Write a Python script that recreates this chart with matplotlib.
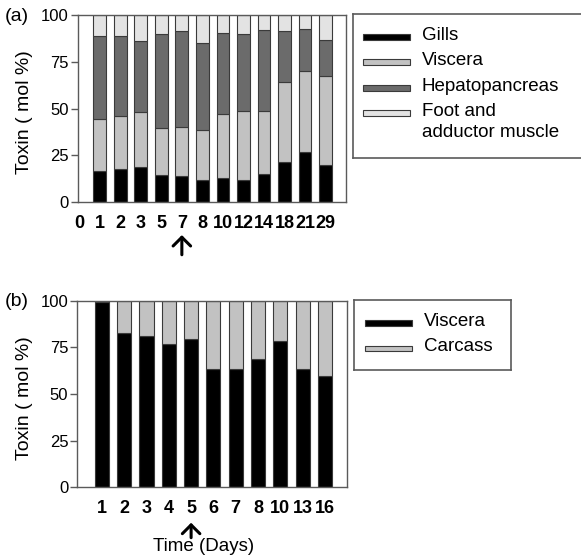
import matplotlib
matplotlib.use('Agg')
import matplotlib.pyplot as plt
from matplotlib.patches import Rectangle
import numpy as np

plt.rcParams['font.family'] = ['Liberation Sans', 'DejaVu Sans']

# Panel (a) data, mol % per tissue
Days_a = ['0', '1', '2', '3', '5', '7', '8', '10', '12', '14', '18', '21', '29']
Gills = [16.9, 17.6, 18.7, 14.8, 14.1, 12.1, 13.0, 11.9, 14.9, 21.7, 27.0, 19.9]
Viscera_a = [27.4, 28.3, 29.7, 24.9, 26.3, 26.3, 34.0, 36.9, 33.7, 42.4, 42.9, 47.5]
Hepato = [44.7, 43.1, 37.7, 50.3, 51.2, 46.5, 43.6, 41.2, 43.2, 27.4, 22.4, 19.3]
Foot = [11.0, 11.0, 13.9, 10.0, 8.4, 15.1, 9.4, 10.0, 8.2, 8.5, 7.7, 13.3]

# Panel (b) data
Days_b = ['1', '2', '3', '4', '5', '6', '7', '8', '10', '13', '16']
Viscera_b = [99.3, 82.5, 81.3, 76.6, 79.6, 63.2, 63.2, 68.8, 78.2, 63.2, 59.8]
Carcass = [0.7, 17.5, 18.7, 23.4, 20.4, 36.8, 36.8, 31.2, 21.8, 36.8, 40.2]

names_a = ['Gills', 'Viscera', 'Hepatopancreas', 'Foot and\nadductor muscle']
colors_a = ['#000000', '#c2c2c2', '#6b6b6b', '#e3e3e3']
names_b = ['Viscera', 'Carcass']
colors_b = ['#000000', '#c2c2c2']

W, H = 581, 560
edge = '#3a3a3a'
spine_col = '#5a5a5a'

fig = plt.figure(figsize=(W / 100, H / 100), dpi=100)

def px_axes(x0, y0, x1, y1):
    # axes from image pixel box (top-left origin)
    return fig.add_axes([x0 / W, 1 - y1 / H, (x1 - x0) / W, (y1 - y0) / H])

def style_axes(ax):
    for s in ax.spines.values():
        s.set_color(spine_col)
        s.set_linewidth(1)
    ax.set_ylim(0, 100)
    ax.set_yticks([0, 25, 50, 75, 100])
    ax.tick_params(axis='y', length=5, width=1, color=spine_col, pad=1.5, labelsize=12)
    ax.tick_params(axis='x', length=0, pad=9, labelsize=13)
    for lab in ax.get_xticklabels():
        lab.set_fontweight('bold')
    ax.set_ylabel('Toxin ( mol %)', fontsize=14)
    ax.yaxis.set_label_coords(-0.165, 0.48)

def legend_box(box, handles_x, text_x, rows, names, colors, right_open=False):
    lx = px_axes(*box)
    lx.set_xlim(box[0], box[2])
    lx.set_ylim(box[3], box[1])
    lx.set_xticks([])
    lx.set_yticks([])
    for s in lx.spines.values():
        s.set_color(spine_col)
        s.set_linewidth(1.2)
    if right_open:
        lx.spines['right'].set_visible(False)
    for y, name, c in zip(rows, names, colors):
        lx.add_patch(Rectangle((handles_x[0], y - 2.8), handles_x[1] - handles_x[0], 5.6,
                               facecolor=c, edgecolor=edge, linewidth=0.8))
        lx.text(text_x, y - 10, name, fontsize=13.5, va='top', ha='left', linespacing=1.28)

# ---- Panel (a)
ax1 = px_axes(77.7, 15, 346, 202.3)
x_a = np.arange(1, len(Days_a))
bottom = np.zeros(len(Gills))
for vals, c in zip([Gills, Viscera_a, Hepato, Foot], colors_a):
    ax1.bar(x_a, vals, width=0.62, bottom=bottom, color=c, edgecolor=edge, linewidth=0.8)
    bottom += np.array(vals)
ax1.set_xlim(-0.07, 12.99)
ax1.set_xticks(np.arange(len(Days_a)))
ax1.set_xticklabels(Days_a)
style_axes(ax1)
ax1.annotate('', xy=(Days_a.index('7'), -0.175), xytext=(Days_a.index('7'), -0.28),
             xycoords=('data', 'axes fraction'), textcoords=('data', 'axes fraction'),
             arrowprops=dict(arrowstyle='->, head_width=0.35, head_length=0.35',
                             lw=2.2, color='black', mutation_scale=18, shrinkA=0, shrinkB=0),
             annotation_clip=False)

legend_box((352.7, 14, 590, 158), (362.7, 410), 421.7, [37, 62, 88, 113],
           names_a, colors_a, right_open=True)

# ---- Panel (b)
ax2 = px_axes(77.3, 300.7, 347.3, 487.3)
x_b = np.arange(1, len(Days_b) + 1)
ax2.bar(x_b, Viscera_b, width=0.63, color=colors_b[0], edgecolor=edge, linewidth=0.8)
ax2.bar(x_b, Carcass, width=0.63, bottom=Viscera_b, color=colors_b[1], edgecolor=edge, linewidth=0.8)
ax2.set_xlim(-0.1, 12.0)
ax2.set_xticks(x_b)
ax2.set_xticklabels(Days_b)
style_axes(ax2)
ax2.set_xlabel('Time (Days)', fontsize=13.5)
ax2.xaxis.set_label_coords(0.469, -0.27)
x5 = x_b[Days_b.index('5')]
ax2.annotate('', xy=(x5, -0.19), xytext=(x5, -0.27),
             xycoords=('data', 'axes fraction'), textcoords=('data', 'axes fraction'),
             arrowprops=dict(arrowstyle='->, head_width=0.35, head_length=0.35',
                             lw=2.2, color='black', mutation_scale=18, shrinkA=0, shrinkB=0),
             annotation_clip=False)

legend_box((354, 300, 510.7, 370), (365, 412.3), 424, [322.7, 348.3], names_b, colors_b)

fig.text(5 / W, 1 - 16.5 / H, '(a)', fontsize=14, va='center', ha='left')
fig.text(5 / W, 1 - 301.5 / H, '(b)', fontsize=14, va='center', ha='left')

plt.savefig('out.png', dpi=100)
